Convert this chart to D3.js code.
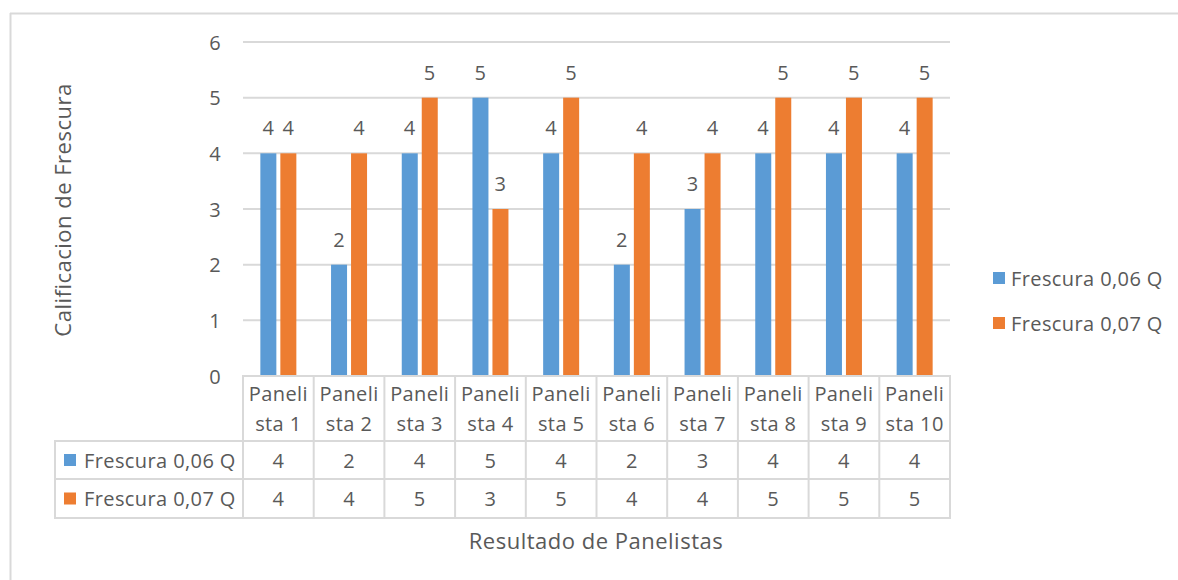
<!DOCTYPE html>
<html>
<head>
<meta charset="utf-8">
<script src="https://cdn.jsdelivr.net/npm/d3@7"></script>
<style>
  html, body { margin: 0; padding: 0; background: #fff; }
  svg { display: block; font-family: "Open Sans", "Noto Sans", sans-serif; }
</style>
</head>
<body>
<svg id="chart" width="1178" height="580"></svg>
<script>
// Panel results: freshness score per panelist for two formulations
const categories = ["Panelista 1", "Panelista 2", "Panelista 3", "Panelista 4", "Panelista 5",
                    "Panelista 6", "Panelista 7", "Panelista 8", "Panelista 9", "Panelista 10"];
const headerLine1 = ["Paneli", "Paneli", "Paneli", "Paneli", "Paneli", "Paneli", "Paneli", "Paneli", "Paneli", "Paneli"];
const headerLine2 = ["sta 1", "sta 2", "sta 3", "sta 4", "sta 5", "sta 6", "sta 7", "sta 8", "sta 9", "sta 10"];
const seriesNames = ["Frescura 0,06 Q", "Frescura 0,07 Q"];
const frescura006 = [4, 2, 4, 5, 4, 2, 3, 4, 4, 4];
const frescura007 = [4, 4, 5, 3, 5, 4, 4, 5, 5, 5];
const yTicks = [0, 1, 2, 3, 4, 5, 6];
const colors = ["#5B9BD5", "#ED7D31"];

const seriesValues = [frescura006, frescura007];
const textColor = "#595959";
const lineColor = "#D9D9D9";
const fontSize = 20;
const letterSp = 0.4;
const titleSize = 22;
const titleSp = 0.5;

const svg = d3.select("#chart");

// outer chart frame (top and left edges)
svg.append("line").attr("x1", 10).attr("x2", 1178).attr("y1", 13.5).attr("y2", 13.5)
  .attr("stroke", lineColor).attr("stroke-width", 2);
svg.append("line").attr("x1", 10.5).attr("x2", 10.5).attr("y1", 13).attr("y2", 580)
  .attr("stroke", lineColor).attr("stroke-width", 2);

const plotLeft = 243, plotRight = 950, plotTop = 42, plotBottom = 376;

const x = d3.scaleBand().domain(categories).range([plotLeft, plotRight]);
const y = d3.scaleLinear().domain([0, 6]).range([plotBottom, plotTop]);
const xSeries = d3.scaleBand().domain(seriesNames).range([0, 36]).paddingInner(0.2);

function label(sel) {
  return sel.attr("fill", textColor).attr("font-size", fontSize).attr("letter-spacing", letterSp);
}

// horizontal gridlines
svg.append("g").selectAll("line").data(yTicks.filter(t => t > 0)).join("line")
  .attr("x1", plotLeft).attr("x2", plotRight)
  .attr("y1", d => y(d)).attr("y2", d => y(d))
  .attr("stroke", lineColor).attr("stroke-width", 2);

// y-axis tick labels
label(svg.append("g").selectAll("text").data(yTicks).join("text"))
  .attr("x", 221).attr("y", d => y(d))
  .attr("text-anchor", "end").attr("dominant-baseline", "central")
  .text(d => d);

// bars and value labels
seriesNames.forEach((name, s) => {
  const g = svg.append("g");
  const data = categories.map((c, i) => ({ c, v: seriesValues[s][i] }));
  const bx = d => x(d.c) + x.bandwidth() / 2 - 18 + xSeries(name);
  g.selectAll("rect").data(data).join("rect")
    .attr("x", bx).attr("width", xSeries.bandwidth())
    .attr("y", d => y(d.v)).attr("height", d => y(0) - y(d.v))
    .attr("fill", colors[s]);
  label(g.selectAll("text").data(data).join("text"))
    .attr("x", d => bx(d) + xSeries.bandwidth() / 2)
    .attr("y", d => y(d.v) - 18)
    .attr("text-anchor", "middle")
    .text(d => d.v);
});

// data table beneath the plot
const tableLeft = 55;
const rowY = [376, 441, 479, 518];
const tbl = svg.append("g").attr("stroke", lineColor).attr("stroke-width", 2);
tbl.append("line").attr("x1", plotLeft - 1).attr("x2", plotRight + 1).attr("y1", rowY[0]).attr("y2", rowY[0]);
rowY.slice(1).forEach(yy => {
  tbl.append("line").attr("x1", tableLeft - 1).attr("x2", plotRight + 1).attr("y1", yy).attr("y2", yy);
});
tbl.append("line").attr("x1", tableLeft).attr("x2", tableLeft).attr("y1", rowY[1]).attr("y2", rowY[3]);
const colEdges = categories.map(c => x(c)).concat([plotRight]);
tbl.selectAll(".col").data(colEdges).join("line")
  .attr("x1", d => d).attr("x2", d => d)
  .attr("y1", rowY[0]).attr("y2", rowY[3]);

// column headers (wrapped category names)
const hdr = svg.append("g").attr("text-anchor", "middle");
label(hdr.selectAll(".l1").data(categories).join("text"))
  .attr("x", d => x(d) + x.bandwidth() / 2).attr("y", 393)
  .attr("dominant-baseline", "central")
  .text((d, i) => headerLine1[i]);
label(hdr.selectAll(".l2").data(categories).join("text"))
  .attr("x", d => x(d) + x.bandwidth() / 2).attr("y", 423)
  .attr("dominant-baseline", "central")
  .text((d, i) => headerLine2[i]);

// table rows: legend key, series name, values
seriesNames.forEach((name, s) => {
  const cy = (rowY[s + 1] + rowY[s + 2]) / 2;
  svg.append("rect").attr("x", 64).attr("y", cy - 6).attr("width", 12).attr("height", 12)
    .attr("fill", colors[s]);
  label(svg.append("text")).attr("x", 84).attr("y", cy).attr("dominant-baseline", "central")
    .text(name);
  label(svg.append("g").selectAll("text").data(categories).join("text"))
    .attr("x", d => x(d) + x.bandwidth() / 2).attr("y", cy)
    .attr("text-anchor", "middle").attr("dominant-baseline", "central")
    .text((d, i) => seriesValues[s][i]);
});

// legend at right
seriesNames.forEach((name, s) => {
  const cy = 278 + s * 45;
  svg.append("rect").attr("x", 993).attr("y", cy - 6).attr("width", 12).attr("height", 12)
    .attr("fill", colors[s]);
  label(svg.append("text")).attr("x", 1011).attr("y", cy).attr("dominant-baseline", "central")
    .text(name);
});

// axis titles
svg.append("text").attr("transform", "translate(62,210) rotate(-90)")
  .attr("text-anchor", "middle").attr("dominant-baseline", "central")
  .attr("fill", textColor).attr("font-size", titleSize).attr("letter-spacing", titleSp)
  .text("Calificacion de Frescura");
svg.append("text").attr("x", 596).attr("y", 540)
  .attr("text-anchor", "middle").attr("dominant-baseline", "central")
  .attr("fill", textColor).attr("font-size", titleSize).attr("letter-spacing", titleSp)
  .text("Resultado de Panelistas");
</script>
</body>
</html>
